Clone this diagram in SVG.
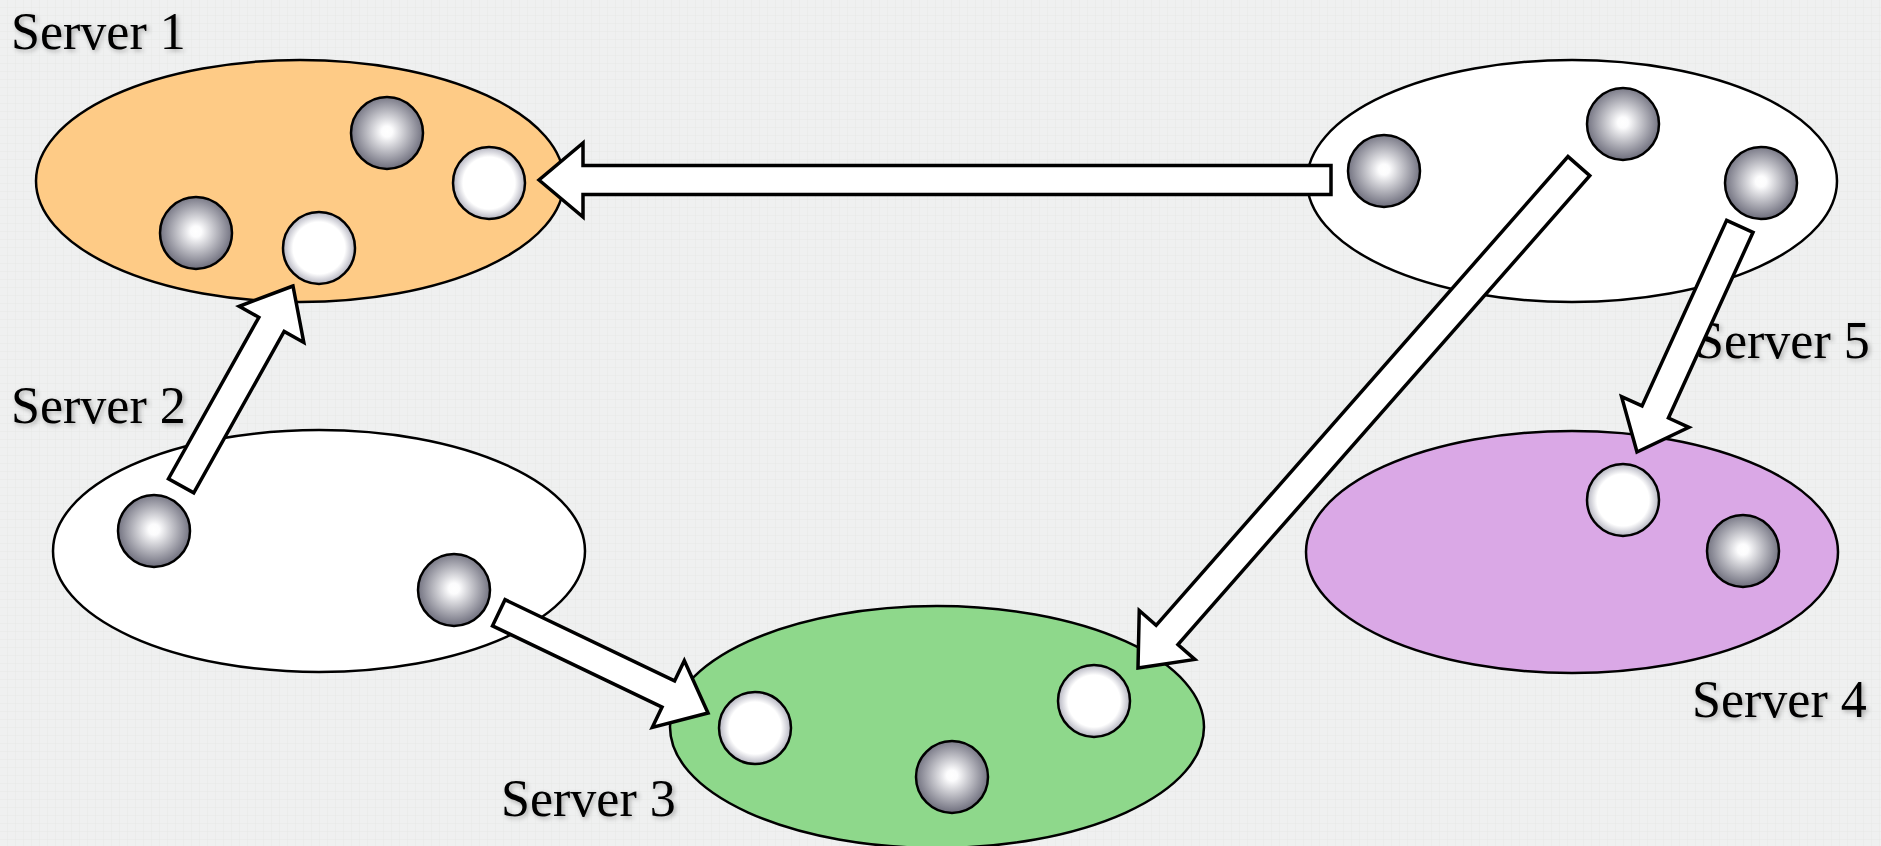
<svg xmlns="http://www.w3.org/2000/svg" width="1881" height="846" viewBox="0 0 1881 846">
  <defs>
    <pattern id="grid" width="8" height="8" patternUnits="userSpaceOnUse">
      <rect width="8" height="8" fill="#eff0f0"/>
      <path d="M8 0V8M0 8H8" stroke="#e2e5e4" stroke-width="0.7" fill="none"/>
    </pattern>
    <radialGradient id="ballGray" cx="0.5" cy="0.48" r="0.5">
      <stop offset="0" stop-color="#ffffff"/>
      <stop offset="0.15" stop-color="#fcfcfd"/>
      <stop offset="1" stop-color="#747482"/>
    </radialGradient>
    <radialGradient id="ballWhite" cx="0.5" cy="0.5" r="0.5">
      <stop offset="0" stop-color="#ffffff"/>
      <stop offset="0.72" stop-color="#ffffff"/>
      <stop offset="1" stop-color="#b4b4c0"/>
    </radialGradient>
    <filter id="textShadow" x="-10%" y="-30%" width="120%" height="160%">
      <feGaussianBlur in="SourceAlpha" stdDeviation="2.5"/>
      <feOffset dx="2" dy="2" result="b"/>
      <feComponentTransfer><feFuncA type="linear" slope="0.3"/></feComponentTransfer>
      <feMerge><feMergeNode/><feMergeNode in="SourceGraphic"/></feMerge>
    </filter>
  </defs>
  <style>
    .server { stroke: #000; stroke-width: 2.5; }
    .gray { fill: url(#ballGray); stroke: #000; stroke-width: 2.5; }
    .white { fill: url(#ballWhite); stroke: #000; stroke-width: 2.5; }
    .label { font-family: "Liberation Serif", "Times New Roman", serif; font-size: 52px; fill: #000; filter: url(#textShadow); }
    .arrow { fill: #fff; stroke: #000; stroke-width: 3.5; stroke-linejoin: miter; }
  </style>

  <rect width="1881" height="846" fill="url(#grid)"/>

  <g id="server1">
    <ellipse class="server" cx="300" cy="181" rx="264" ry="121" fill="#fecb86"/>
    <circle class="gray" cx="387" cy="133" r="36"/>
    <circle class="white" cx="489" cy="183" r="36"/>
    <circle class="gray" cx="196" cy="233" r="36"/>
    <circle class="white" cx="319" cy="248" r="36"/>
    <text class="label" x="11" y="49">Server 1</text>
  </g>

  <g id="server2">
    <ellipse class="server" cx="319" cy="551" rx="266" ry="121" fill="#ffffff"/>
    <circle class="gray" cx="154" cy="531" r="36"/>
    <circle class="gray" cx="454" cy="590" r="36"/>
    <text class="label" x="11" y="423">Server 2</text>
  </g>

  <g id="server3">
    <ellipse class="server" cx="937" cy="727" rx="267" ry="121" fill="#8ed88b"/>
    <circle class="white" cx="755" cy="728" r="36"/>
    <circle class="gray" cx="952" cy="777" r="36"/>
    <circle class="white" cx="1094" cy="701" r="36"/>
    <text class="label" x="501" y="816">Server 3</text>
  </g>

  <g id="server4">
    <ellipse class="server" cx="1572" cy="552" rx="266" ry="121" fill="#daa8e6"/>
    <circle class="white" cx="1623" cy="500" r="36"/>
    <circle class="gray" cx="1743" cy="551" r="36"/>
    <text class="label" x="1692" y="717">Server 4</text>
  </g>

  <g id="server5">
    <ellipse class="server" cx="1572" cy="181" rx="265" ry="121" fill="#ffffff"/>
    <circle class="gray" cx="1384" cy="171" r="36"/>
    <circle class="gray" cx="1623" cy="124" r="36"/>
    <circle class="gray" cx="1761" cy="183" r="36"/>
    <text class="label" x="1695" y="358">Server 5</text>
  </g>

  <!-- block arrows: drawn pointing along +x with the tip at the origin -->
  <g id="connectors">
    <polygon class="arrow" transform="translate(539 180) rotate(180)" points="0,0 -44,-37 -44,-14.5 -792,-14.5 -792,14.5 -44,14.5 -44,37"/>
    <polygon class="arrow" transform="translate(293 286) rotate(-60.75)" points="0,0 -44,-37 -44,-14.5 -229,-14.5 -229,14.5 -44,14.5 -44,37"/>
    <polygon class="arrow" transform="translate(708 713) rotate(25.6)" points="0,0 -44,-37 -44,-14.5 -232,-14.5 -232,14.5 -44,14.5 -44,37"/>
    <polygon class="arrow" transform="translate(1138 668) rotate(131.3)" points="0,0 -44,-37 -44,-14.5 -668,-14.5 -668,14.5 -44,14.5 -44,37"/>
    <polygon class="arrow" transform="translate(1637 452) rotate(114.5)" points="0,0 -44,-37 -44,-14.5 -248,-14.5 -248,14.5 -44,14.5 -44,37"/>
  </g>
</svg>
